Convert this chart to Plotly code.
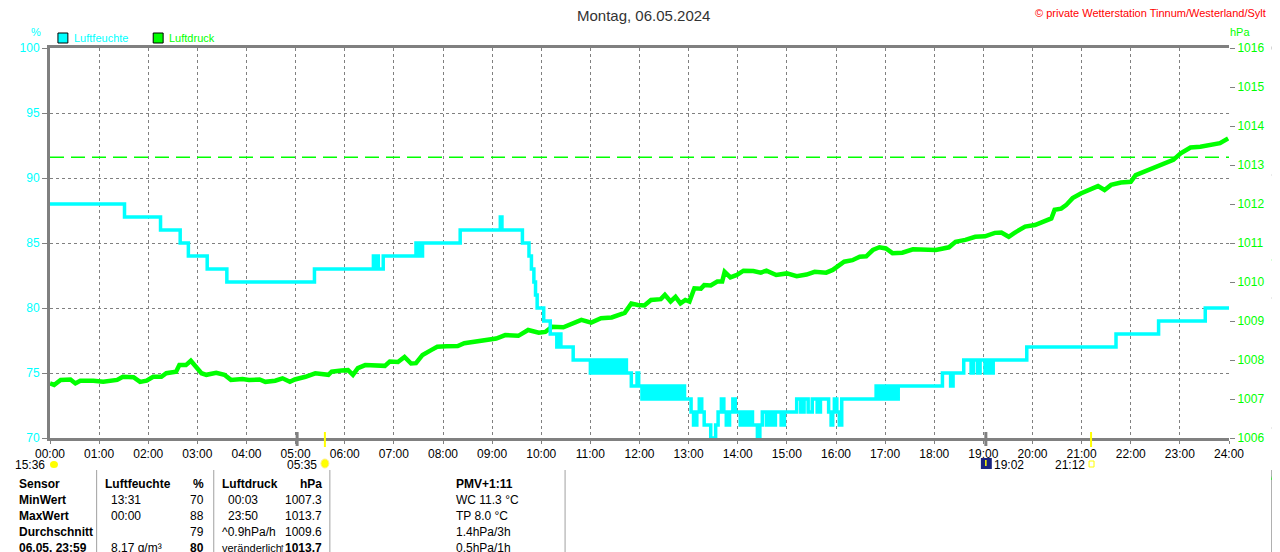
import plotly.graph_objects as go

# Luftfeuchte (%), step values
hum_times = ["00:00", "01:31", "02:15", "02:39", "02:49", "03:12", "03:36", "05:23",
             "06:35", "06:37", "06:39", "06:41", "06:47", "07:27", "07:29", "07:31",
             "07:33", "07:35", "08:21", "09:10", "09:12", "09:37", "09:45", "09:48",
             "09:51", "09:53", "09:55", "10:03", "10:11", "10:19", "10:21", "10:24",
             "10:39", "11:00", "11:03", "11:06", "11:10", "11:14", "11:18", "11:22",
             "11:26", "11:29", "11:33", "11:37", "11:41", "11:44", "11:50", "11:57",
             "11:59", "12:03", "12:06", "12:09", "12:13", "12:17", "12:21", "12:25",
             "12:29", "12:33", "12:37", "12:41", "12:45", "12:49", "12:52", "12:55",
             "13:03", "13:06", "13:10", "13:13", "13:16", "13:19", "13:27", "13:33",
             "13:36", "13:40", "13:43", "13:46", "13:50", "13:54", "13:57", "14:03",
             "14:07", "14:10", "14:14", "14:18", "14:24", "14:27", "14:30", "14:35",
             "14:39", "14:43", "14:46", "14:53", "14:57", "15:12", "15:17", "15:21",
             "15:26", "15:31", "15:37", "15:41", "15:51", "15:54", "15:56", "15:58",
             "16:01", "16:04", "16:07", "16:49", "16:52", "16:56", "17:00", "17:03",
             "17:07", "17:10", "17:14", "17:16", "18:10", "18:20", "18:23", "18:36",
             "18:45", "18:48", "18:53", "18:56", "19:02", "19:05", "19:09", "19:12",
             "19:53", "21:42", "22:34", "23:31", "24:00"]
hum_values = [88, 87, 86, 85, 84, 83, 82, 83,
              84, 83, 84, 83, 84, 85, 84, 85,
              84, 85, 86, 87, 86, 85, 84, 83,
              82, 81, 80, 79, 78, 77, 78, 77,
              76, 75, 76, 75, 76, 75, 76, 75,
              76, 75, 76, 75, 76, 75, 74, 75,
              74, 73, 74, 73, 74, 73, 74, 73,
              74, 73, 74, 73, 74, 73, 74, 73,
              72, 71, 72, 73, 72, 71, 70, 71,
              72, 73, 72, 71, 72, 73, 72, 71,
              72, 71, 72, 71, 70, 71, 72, 71,
              72, 71, 72, 71, 72, 73, 72, 73,
              72, 73, 72, 73, 72, 71, 72, 73,
              72, 71, 73, 74, 73, 74, 73, 74,
              73, 74, 73, 74, 75, 74, 75, 76,
              75, 76, 75, 76, 75, 76, 75, 76,
              77, 78, 79, 80, 80]

# Luftdruck (hPa)
pres_times = ["00:00", "00:05", "00:13", "00:25", "00:31", "00:37", "00:53", "01:05",
              "01:22", "01:29", "01:42", "01:50", "01:58", "02:06", "02:16", "02:22",
              "02:34", "02:38", "02:46", "02:52", "02:59", "03:05", "03:11", "03:23",
              "03:33", "03:41", "03:55", "04:03", "04:16", "04:23", "04:35", "04:44",
              "04:53", "04:59", "05:12", "05:24", "05:40", "05:44", "05:56", "06:04",
              "06:10", "06:16", "06:25", "06:37", "06:49", "06:55", "07:05", "07:13",
              "07:21", "07:27", "07:35", "07:46", "07:53", "08:04", "08:18", "08:26",
              "08:38", "08:54", "09:05", "09:16", "09:32", "09:44", "09:57", "10:05",
              "10:13", "10:27", "10:37", "10:49", "11:01", "11:13", "11:26", "11:42",
              "11:50", "11:58", "12:06", "12:14", "12:26", "12:31", "12:38", "12:44",
              "12:50", "12:56", "13:01", "13:07", "13:15", "13:19", "13:27", "13:35",
              "13:41", "13:44", "13:51", "13:59", "14:07", "14:19", "14:28", "14:35",
              "14:47", "15:00", "15:12", "15:24", "15:34", "15:48", "15:56", "16:04",
              "16:10", "16:20", "16:29", "16:37", "16:45", "16:53", "17:01", "17:09",
              "17:21", "17:34", "17:49", "18:02", "18:18", "18:26", "18:38", "18:50",
              "19:02", "19:14", "19:22", "19:31", "19:38", "19:51", "20:03", "20:15",
              "20:23", "20:27", "20:35", "20:41", "20:49", "20:59", "21:10", "21:20",
              "21:28", "21:36", "21:48", "22:00", "22:06", "22:16", "22:28", "22:40",
              "22:52", "23:01", "23:13", "23:25", "23:37", "23:49", "23:59"]
pres_values = [1007.40, 1007.36, 1007.49, 1007.50, 1007.40, 1007.47, 1007.47, 1007.44,
               1007.49, 1007.57, 1007.56, 1007.44, 1007.47, 1007.57, 1007.57, 1007.66,
               1007.70, 1007.87, 1007.87, 1007.98, 1007.81, 1007.66, 1007.62, 1007.67,
               1007.62, 1007.49, 1007.51, 1007.49, 1007.50, 1007.44, 1007.47, 1007.53,
               1007.44, 1007.50, 1007.57, 1007.66, 1007.62, 1007.70, 1007.73, 1007.74,
               1007.62, 1007.79, 1007.87, 1007.86, 1007.85, 1007.96, 1007.95, 1008.08,
               1007.91, 1007.92, 1008.13, 1008.26, 1008.34, 1008.35, 1008.36, 1008.43,
               1008.47, 1008.51, 1008.55, 1008.64, 1008.62, 1008.77, 1008.70, 1008.72,
               1008.85, 1008.84, 1008.92, 1009.03, 1008.96, 1009.07, 1009.09, 1009.21,
               1009.45, 1009.41, 1009.40, 1009.54, 1009.56, 1009.67, 1009.50, 1009.62,
               1009.45, 1009.54, 1009.50, 1009.84, 1009.83, 1009.92, 1009.91, 1010.01,
               1010.01, 1010.26, 1010.12, 1010.18, 1010.29, 1010.28, 1010.24, 1010.29,
               1010.18, 1010.22, 1010.15, 1010.19, 1010.26, 1010.24, 1010.31, 1010.44,
               1010.52, 1010.56, 1010.65, 1010.66, 1010.82, 1010.89, 1010.86, 1010.74,
               1010.75, 1010.84, 1010.84, 1010.82, 1010.89, 1011.03, 1011.08, 1011.16,
               1011.17, 1011.26, 1011.27, 1011.16, 1011.26, 1011.42, 1011.46, 1011.55,
               1011.63, 1011.85, 1011.88, 1011.97, 1012.15, 1012.27, 1012.36, 1012.46,
               1012.36, 1012.49, 1012.55, 1012.57, 1012.74, 1012.83, 1012.91, 1013.04,
               1013.13, 1013.30, 1013.45, 1013.47, 1013.51, 1013.56, 1013.68]

ref_pressure = 1013.2
hour_labels = ["%02d:00" % h for h in range(25)]
hum_ticks = [70, 75, 80, 85, 90, 95, 100]
pres_ticks = list(range(1006, 1017))

# table below the chart
table_rows = [
    ["Sensor", "Luftfeuchte", "%", "Luftdruck", "hPa", "PMV+1:11"],
    ["MinWert", "13:31", "70", "00:03", "1007.3", "WC 11.3 °C"],
    ["MaxWert", "00:00", "88", "23:50", "1013.7", "TP 8.0 °C"],
    ["Durchschnitt", "", "79", "^0.9hPa/h", "1009.6", "1.4hPa/3h"],
    ["06.05. 23:59", "8.17 g/m³", "80", "veränderlich", "↑1013.7", "0.5hPa/1h"],
]

CYAN = "#00ffff"
GREEN = "#00ff00"
GRAY = "#808080"
FONT = "Liberation Sans"

OFF = 8  # the page puts the figure 8px in from the top left corner
W, H = 1280, 552


def to_h(t):
    h, m = t.split(":")
    return int(h) + int(m) / 60


# plot area in screen pixels
L, R, T, B = 41, 1229, 48, 438


def px(x):
    return (x - L) / (R - L)


def py(y):
    return (B - y) / (B - T)


fig = go.Figure()
fig.add_trace(go.Scatter(x=[to_h(t) for t in pres_times], y=pres_values, yaxis="y",
                         mode="lines", line=dict(color=GREEN, width=4.5), name="Luftdruck"))
fig.add_trace(go.Scatter(x=[0, 24], y=[ref_pressure, ref_pressure], yaxis="y",
                         mode="lines", line=dict(color=GREEN, width=1.5, dash="14px,7px"),
                         showlegend=False))
fig.add_trace(go.Scatter(x=[to_h(t) for t in hum_times], y=hum_values, yaxis="y2",
                         mode="lines", line=dict(color=CYAN, width=3.5, shape="hv"),
                         name="Luftfeuchte"))

ann = []
shapes = []


def text(x, y, s, color="black", size=12, xanchor="left", bold=False):
    if bold:
        s = "<b>" + s + "</b>"
    ann.append(dict(x=px(x), y=py(y), xref="paper", yref="paper", text=s, showarrow=False,
                    xanchor=xanchor, yanchor="middle",
                    font=dict(family=FONT, size=size, color=color)))


def line(x0, y0, x1, y1, color, width):
    shapes.append(dict(type="line", xref="paper", yref="paper", x0=px(x0), x1=px(x1),
                       y0=py(y0), y1=py(y1), line=dict(color=color, width=width)))


text(639, 15, "Montag, 06.05.2024", color="#333333", size=15, xanchor="center")
text(1268, 13, "© private Wetterstation Tinnum/Westerland/Sylt", color="#ff0000", size=11, xanchor="right")
text(27, 32, "%", color=CYAN, size=11, xanchor="center")
text(1240, 32, "hPa", color=GREEN, size=11, xanchor="center")

# legend boxes
for x0, col, label in [(49, CYAN, "Luftfeuchte"), (145, GREEN, "Luftdruck")]:
    shapes.append(dict(type="rect", xref="paper", yref="paper", x0=px(x0), x1=px(x0 + 10),
                       y0=py(43), y1=py(33), fillcolor=col, line=dict(color="black", width=1)))
    text(x0 + 14, 38, label, color=col, size=11)

# sunrise / sunset marks
line(318, 432, 318, 447, "#ffff00", 2)
line(1090, 432, 1090, 447, "#ffff00", 2)
line(290, 432, 290, 446, GRAY, 3)
line(984, 432, 984, 446, GRAY, 3)

text(38, 465, "15:36", size=12, xanchor="right")
shapes.append(dict(type="circle", xref="paper", yref="paper", x0=px(41), x1=px(49),
                   y0=py(468), y1=py(461), fillcolor="#ffff00", line=dict(width=0)))
text(312, 465, "05:35", size=12, xanchor="right")
shapes.append(dict(type="circle", xref="paper", yref="paper", x0=px(314), x1=px(322),
                   y0=py(468), y1=py(459), fillcolor="#ffff00", line=dict(color="#ffee88", width=1)))
shapes.append(dict(type="rect", xref="paper", yref="paper", x0=px(979), x1=px(990),
                   y0=py(469), y1=py(458), fillcolor="#1a237e", line=dict(width=0)))
line(984, 460, 984, 466, "#ffff00", 1.5)
text(990, 465, "19:02", size=12)
text(1086, 465, "21:12", size=12, xanchor="right")
shapes.append(dict(type="rect", xref="paper", yref="paper", x0=px(1088), x1=px(1093),
                   y0=py(467), y1=py(461), line=dict(color="#ffff00", width=1)))

# table
for x in [88, 206, 323, 560]:
    line(x, 470, x, 560, "#a0a0a0", 1)
row_y = [484, 500, 516, 532, 548]
for i, row in enumerate(table_rows):
    y = row_y[i]
    head = i == 0
    text(8, y, row[0], bold=True)
    text(94 if head else 100, y, row[1], bold=head)
    text(198, y, row[2], xanchor="right", bold=head or i == 4)
    if i == 4:
        text(212, y, row[3], size=11)
    else:
        text(212 if head or i == 3 else 218, y, row[3], bold=head)
    text(317, y, row[4], xanchor="right", bold=head or i == 4)
    text(448, y, row[5], bold=head)

# fragments of the neighbouring chart at the right edge
line(1272, 48, 1282, 48, GRAY, 3)
for y in [175, 298, 428]:
    line(1272, y, 1276, y, GRAY, 1)
line(1272, 260, 1277, 260, GREEN, 1)
line(1272, 470, 1272, 560, "#a0a0a0", 1)
shapes.append(dict(type="path", xref="paper", yref="paper",
                   path="M %f %f L %f %f L %f %f L %f %f" % (px(1273), py(480), px(1275), py(470),
                                                             px(1277), py(468), px(1282), py(463)),
                   line=dict(color=GREEN, width=3)))

fig.update_layout(
    width=W, height=H,
    margin=dict(l=L - OFF, r=W - (R - OFF), t=T - OFF, b=H - (B - OFF)),
    paper_bgcolor="white", plot_bgcolor="white",
    showlegend=False,
    font=dict(family=FONT, size=12, color="black"),
    xaxis=dict(range=[0, 24], tickvals=list(range(25)), ticktext=hour_labels,
               showgrid=True, gridcolor=GRAY, griddash="3px,3px", gridwidth=1,
               showline=True, linecolor=GRAY, linewidth=3, mirror=True,
               ticks="outside", ticklen=3, tickcolor=GRAY, zeroline=False,
               tickfont=dict(family=FONT, size=12, color="black")),
    yaxis=dict(range=[1006, 1016], tickvals=pres_ticks, side="right",
               showgrid=False, zeroline=False, showline=False,
               ticks="outside", ticklen=5, tickcolor=GRAY,
               tickfont=dict(family=FONT, size=12, color=GREEN)),
    yaxis2=dict(range=[70, 100], tickvals=hum_ticks, side="left", overlaying="y",
                showgrid=True, gridcolor=GRAY, griddash="3px,3px", gridwidth=1,
                showline=True, linecolor=GRAY, linewidth=3, zeroline=False,
                ticks="outside", ticklen=5, tickcolor=GRAY,
                tickfont=dict(family=FONT, size=12, color=CYAN)),
    annotations=ann,
    shapes=shapes,
)

fig.write_html("out.html")
